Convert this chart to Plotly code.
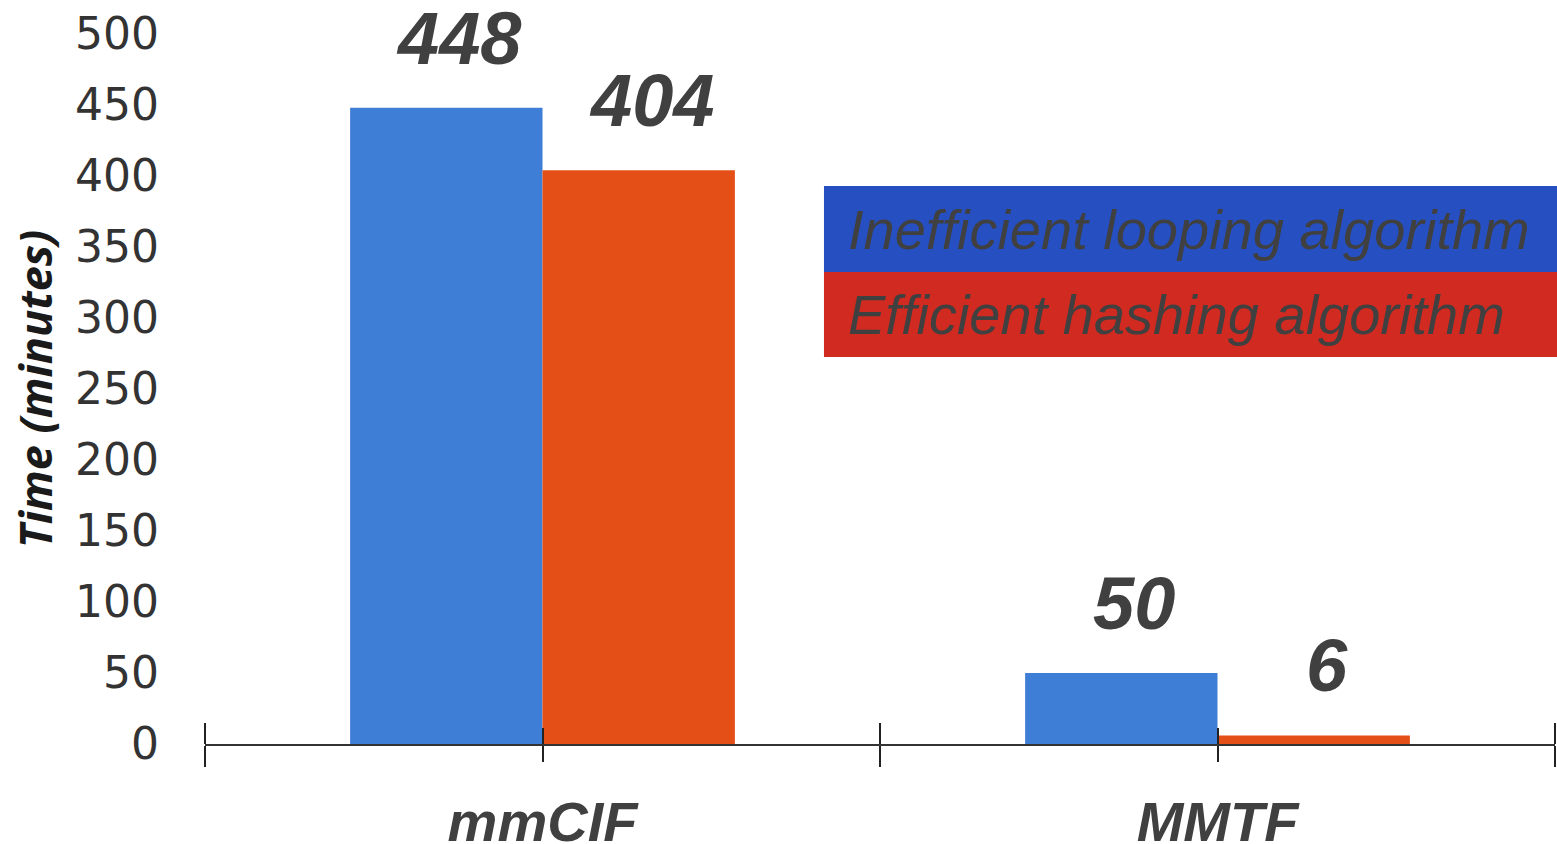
import plotly.graph_objects as go

# ---- data ----
categories = ["mmCIF", "MMTF"]
cat_pos = [0, 1]
series_names = ["Inefficient looping algorithm", "Efficient hashing algorithm"]
looping_minutes = [448, 50]
hashing_minutes = [404, 6]
y_tick_vals = [0, 50, 100, 150, 200, 250, 300, 350, 400, 450, 500]

# ---- style ----
BAR_BLUE = "#3F7ED6"
BAR_ORANGE = "#E34F16"
LEG_BLUE = "#2650C2"
LEG_RED = "#D02A21"
TXT = "#404040"
BARGAP = 0.43

fig = go.Figure()
series = [looping_minutes, hashing_minutes]
colors = [BAR_BLUE, BAR_ORANGE]
for name, vals, col in zip(series_names, series, colors):
    fig.add_trace(go.Bar(x=cat_pos, y=vals, name=name, marker=dict(color=col, line=dict(width=0)),
                         showlegend=False))

# value labels above bars, positioned from the grouped-bar geometry
n_series = len(series)
bar_w = (1 - BARGAP) / n_series
for s_idx, vals in enumerate(series):
    offset = -(1 - BARGAP) / 2 + bar_w * (s_idx + 0.5)
    for xp, v in zip(cat_pos, vals):
        fig.add_annotation(x=xp + offset, y=v, xref="x", yref="y", text=f"<b><i>{v}</i></b>",
                           showarrow=False, yanchor="bottom", yshift=26, xshift=13,
                           font=dict(family="Liberation Sans, Arial", size=74, color=TXT))

# legend: coloured boxes + text
leg_bounds = [(0.6648, 0.7859), (0.545, 0.6648)]
for name, bg, (y0, y1) in zip(series_names, [LEG_BLUE, LEG_RED], leg_bounds):
    fig.add_shape(type="rect", xref="paper", yref="paper", x0=0.4585, x1=1.0015, y0=y0, y1=y1,
                  fillcolor=bg, line=dict(width=0), layer="above")
    fig.add_annotation(xref="paper", yref="paper", x=0.4748, y=(y0 + y1) / 2,
                       xanchor="left", yanchor="middle", text=f"<i>{name}</i>", showarrow=False,
                       font=dict(family="Liberation Sans, Arial", size=56, color=TXT))

fig.update_layout(
    width=1557, height=844,
    margin=dict(l=205, r=2, t=34, b=100),
    paper_bgcolor="white", plot_bgcolor="white",
    barmode="group", bargap=BARGAP, bargroupgap=0,
    xaxis=dict(range=[-0.5, 1.5], showgrid=False, zeroline=False, showline=True, automargin=False,
               linecolor="#333", linewidth=2, ticks="outside", ticklen=16,
               ticklabelstandoff=12,
               tickfont=dict(family="Liberation Sans, Arial", size=56, color=TXT),
               tickvals=cat_pos, ticktext=[f"<b><i>{c}</i></b>" for c in categories],
               tickwidth=2, tickcolor="#222",
               minor=dict(tickvals=[-0.5, 0.5, 1.5], ticks="outside", ticklen=21, tickwidth=2,
                          tickcolor="#222", showgrid=False)),
    # second axis at the same baseline, drawn as a "top" axis so its outside ticks point upward
    xaxis2=dict(overlaying="x", matches="x", anchor="free", position=0, side="top",
                range=[-0.5, 1.5], automargin=False,
                showgrid=False, zeroline=False, showline=False, showticklabels=False,
                ticks="outside", ticklen=16, tickvals=cat_pos, tickwidth=2, tickcolor="#222",
                minor=dict(tickvals=[-0.5, 0.5, 1.5], ticks="outside", ticklen=21, tickwidth=2,
                           tickcolor="#222", showgrid=False)),
    yaxis=dict(range=[0, 500], tickvals=y_tick_vals, showgrid=False, zeroline=False,
               showline=False, ticks="", ticklabelstandoff=45, automargin=False,
               tickfont=dict(family="DejaVu Sans", size=44, color="#333"),
               title=dict(text="<b><i>Time (minutes)</i></b>", standoff=8,
                          font=dict(family="Open Sans", size=45, color="#1a1a1a"))),
)
# invisible helper trace so xaxis2 (upper half of the crossing ticks) renders
fig.add_trace(go.Scatter(x=[0], y=[0], xaxis="x2", yaxis="y", mode="markers",
                         marker=dict(opacity=0), showlegend=False, hoverinfo="skip"))

# remove the default page margin so the 1557x844 figure fills the window exactly
fig.write_html("out.html", config={"displayModeBar": False},
               post_script="document.body.style.margin='0';document.body.style.overflow='hidden';")
